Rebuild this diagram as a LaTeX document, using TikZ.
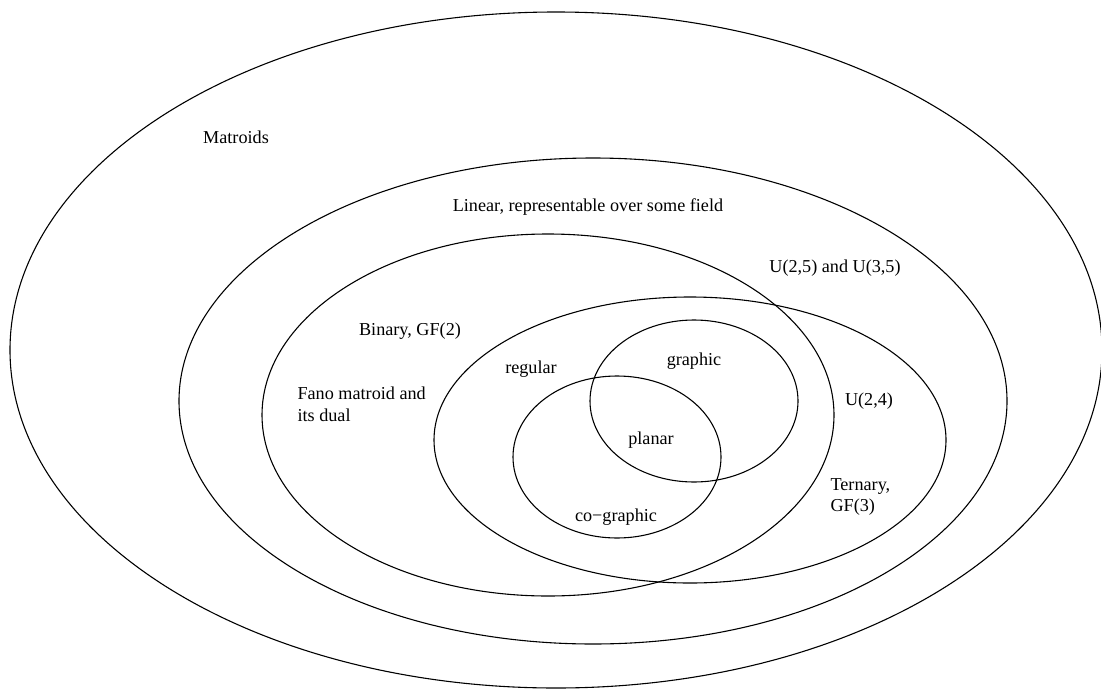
\documentclass[tikz,border=0pt]{standalone}
\usepackage{fontspec}
\setmainfont{Liberation Serif}

\begin{document}
\begin{tikzpicture}[x=0.55pt,y=-0.55pt,line width=0.6pt,
   lbl/.style={inner sep=0pt,font=\fontsize{10}{12}\selectfont},
   lbll/.style={lbl,anchor=west,align=left}]
   \useasboundingbox (0,0) rectangle (1101,692);
   \draw (556,350) ellipse [x radius=546,y radius=338];
   \draw (593,401) ellipse [x radius=414,y radius=243];
   \draw (548,415) ellipse [x radius=286,y radius=181];
   \draw (690,440) ellipse [x radius=256,y radius=143];
   \draw (694,401) ellipse [x radius=104,y radius=81];
   \draw (617,457) ellipse [x radius=104,y radius=81];

   \node[lbl] (matroids) at (236,137) {Matroids};
   \node[lbl] (linear) at (588,207) {Linear, representable over some field};
   \node[lbl] (unif5) at (835,268) {U(2,5) and U(3,5)};
   \node[lbl] (binary) at (410,331) {Binary, GF(2)};
   \node[lbll] (fano) at (297,404) {Fano matroid and\\its dual};
   \node[lbl] (regular) at (531,369) {regular};
   \node[lbl] (graphic) at (694,361) {graphic};
   \node[lbl] (planar) at (651,440) {planar};
   \node[lbl] (cographic) at (616,517) {co−graphic};
   \node[lbl] (unif4) at (869,401) {U(2,4)};
   \node[lbll] (ternary) at (830,497) {Ternary,\\GF(3)};
\end{tikzpicture}
\end{document}
